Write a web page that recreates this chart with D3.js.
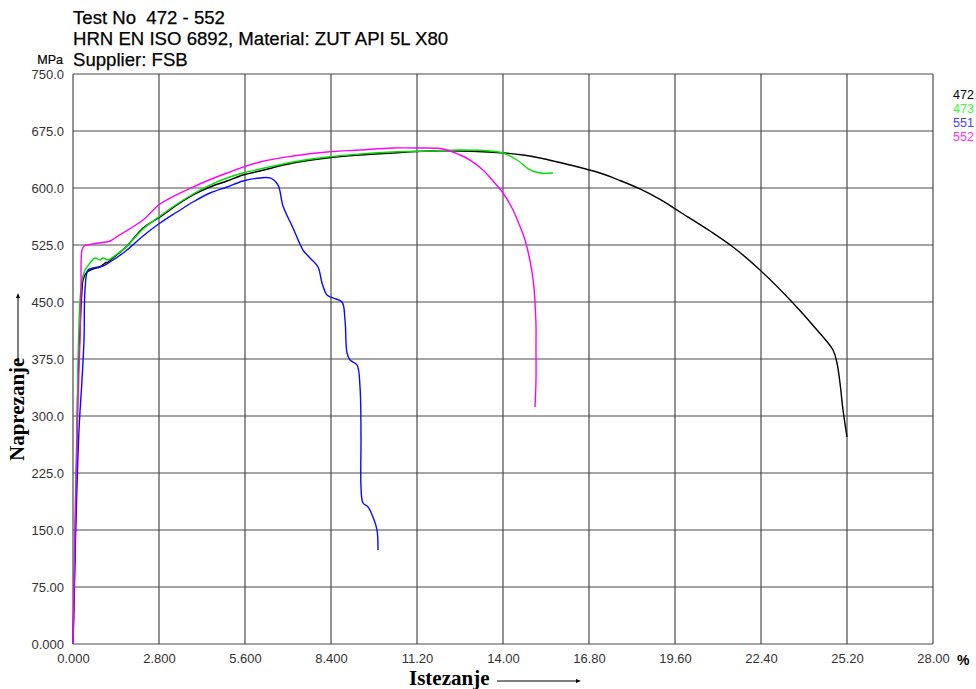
<!DOCTYPE html>
<html><head><meta charset="utf-8">
<script src="https://cdn.jsdelivr.net/npm/d3@7"></script>
<style>body{margin:0;background:#fff}svg{display:block}text{white-space:pre}</style>
</head><body>
<svg id="c" width="976" height="689"></svg>
<script>
const titleLines = ["Test No  472 - 552", "HRN EN ISO 6892, Material: ZUT API 5L X80", "Supplier: FSB"];
const xTicks = [0, 2.8, 5.6, 8.4, 11.2, 14.0, 16.8, 19.6, 22.4, 25.2, 28.0];
const xTickLabels = ["0.000","2.800","5.600","8.400","11.20","14.00","16.80","19.60","22.40","25.20","28.00"];
const yTicks = [0, 75, 150, 225, 300, 375, 450, 525, 600, 675, 750];
const yTickLabels = ["0.000","75.00","150.0","225.0","300.0","375.0","450.0","525.0","600.0","675.0","750.0"];
const seriesNames = ["472", "473", "551", "552"];
const seriesColors = ["#000000", "#00e000", "#0a0aff", "#ff00ff"];
const legendColors = ["#000000", "#33ff33", "#4444ff", "#ff33ff"];

const strain472 = [0,0.033,0.065,0.098,0.130,0.163,0.228,0.293,0.326,0.456,0.651,0.879,1.042,1.140,1.302,1.758,2.279,2.833,3.386,3.907,4.460,5.014,5.535,6.088,7.163,8.270,9.344,10.419,11.526,12.600,14.000,14.651,15.205,16.181,17.158,17.809,18.460,19.112,19.763,20.740,21.488,22.367,23.442,24.223,24.744,24.874,24.972,25.070,25.200];
const stress472 = [0,57.9,123.7,189.5,268.4,347.4,413.2,465.8,478.9,489.5,493.4,496.1,501.3,502.6,507.9,523.7,547.4,561.8,577.6,590.8,601.3,609.2,617.1,622.4,632.9,639.5,643.4,646.1,648.7,648.7,646.1,643.4,639.5,630.3,619.7,609.9,598.7,584.9,568.4,543.4,522.4,492.1,448.7,413.2,386.8,369.7,343.4,307.9,272.4];

const strain473 = [0,0.033,0.098,0.163,0.228,0.293,0.391,0.553,0.716,0.879,0.977,1.140,1.302,1.758,2.279,2.833,3.386,3.907,4.460,5.014,5.535,6.088,7.163,8.270,9.344,10.419,11.526,12.600,13.577,14.000,14.456,14.879,15.205,15.628];
const stress473 = [0,84.2,215.8,373.7,452.6,478.9,492.1,501.3,507.9,505.3,507.9,505.3,509.2,523.7,546.1,563.2,578.9,592.1,603.9,613.2,619.7,625.0,634.2,640.8,644.7,647.4,648.7,650.0,648.7,646.1,636.8,623.7,619.7,619.7];

const strain551 = [0,0.033,0.098,0.195,0.293,0.358,0.391,0.488,0.651,0.977,1.205,1.758,2.279,2.833,3.386,3.907,4.460,5.014,5.535,6.088,6.414,6.674,6.837,7.163,7.488,7.716,7.977,8.107,8.270,8.465,8.758,8.856,8.921,9.019,9.247,9.344,9.377,9.377,9.442,9.605,9.767,9.898,9.930];
const stress551 = [0,57.9,163.2,281.6,347.4,400.0,465.8,492.1,494.7,497.4,502.6,518.4,536.8,553.9,568.4,581.6,593.4,601.3,609.2,613.2,613.2,603.9,576.3,547.4,518.4,507.9,496.1,475.0,459.2,455.3,450.0,426.3,382.9,373.7,367.1,338.2,272.4,206.6,185.5,180.3,167.1,150.0,123.7];

const strain552 = [0,0.033,0.098,0.163,0.228,0.260,0.293,0.358,0.651,1.205,1.367,1.465,2.279,2.833,3.907,5.014,6.088,7.163,8.270,9.344,10.419,11.200,12.047,12.600,12.926,13.349,13.674,14.000,14.293,14.521,14.716,14.847,14.944,15.009,15.042,15.074,15.074,15.074,15.042];
const stress552 = [0,84.2,215.8,321.1,400.0,465.8,518.4,523.7,526.3,530.3,534.2,536.8,557.9,578.9,601.3,619.7,634.2,642.1,647.4,650.0,652.6,652.6,651.3,643.4,636.8,623.7,609.2,593.4,573.7,552.6,531.6,510.5,489.5,468.4,448.7,419.7,390.8,347.4,311.8];

const series = [
  {name: seriesNames[0], x: strain472, y: stress472},
  {name: seriesNames[1], x: strain473, y: stress473},
  {name: seriesNames[2], x: strain551, y: stress551},
  {name: seriesNames[3], x: strain552, y: stress552}
];

const svg = d3.select("#c");
const L = 73, R = 933, T = 74, B = 644;
const x = d3.scaleLinear().domain([0, 28]).range([L, R]);
const y = d3.scaleLinear().domain([0, 750]).range([B, T]);

// grid
const g = svg.append("g");
g.selectAll("line.v").data(xTicks).enter().append("line")
  .attr("x1", d => x(d)).attr("x2", d => x(d)).attr("y1", T).attr("y2", B)
  .attr("stroke", "#4a4a4a").attr("stroke-width", 1.2);
g.selectAll("line.h").data(yTicks).enter().append("line")
  .attr("x1", L).attr("x2", R).attr("y1", d => y(d)).attr("y2", d => y(d))
  .attr("stroke", "#4a4a4a").attr("stroke-width", 1.2);

const tf = "Liberation Sans, Arial, sans-serif";
const xAxis = d3.axisBottom(x).tickValues(xTicks).tickFormat((d, i) => xTickLabels[i]).tickSize(0).tickPadding(10);
const xa = svg.append("g").attr("transform", `translate(0,${B})`).call(xAxis);
xa.select(".domain").remove();
xa.selectAll("text").attr("font-family", tf).attr("font-size", 13).attr("fill", "#333");

const yAxis = d3.axisLeft(y).tickValues(yTicks).tickFormat((d, i) => yTickLabels[i]).tickSize(0).tickPadding(9);
const ya = svg.append("g").attr("transform", `translate(${L},0)`).call(yAxis);
ya.select(".domain").remove();
ya.selectAll("text").attr("font-family", tf).attr("font-size", 13).attr("fill", "#333");

// curves
const line = d3.line().x(d => x(d[0])).y(d => y(d[1])).curve(d3.curveCatmullRom.alpha(0.5));
series.forEach((s, i) => {
  const pts = s.x.map((v, k) => [v, s.y[k]]);
  svg.append("path").datum(pts).attr("d", line)
    .attr("fill", "none").attr("stroke", seriesColors[i]).attr("stroke-width", 1.4)
    .attr("stroke-linejoin", "round");
});

// titles
titleLines.forEach((t, i) => {
  svg.append("text").attr("x", 73).attr("y", 24 + i * 21).text(t)
    .attr("font-family", tf).attr("font-size", 18.6).attr("fill", "#000")
    .attr("stroke", "#000").attr("stroke-width", 0.25);
});
svg.append("text").attr("x", 63).attr("y", 64).attr("text-anchor", "end").text("MPa")
  .attr("font-family", tf).attr("font-size", 12.5).attr("fill", "#000")
  .attr("stroke", "#000").attr("stroke-width", 0.2);
svg.append("text").attr("x", 957).attr("y", 665).text("%")
  .attr("font-family", tf).attr("font-size", 14).attr("font-weight", "bold").attr("fill", "#000");

// legend
seriesNames.forEach((n, i) => {
  svg.append("text").attr("x", 953).attr("y", 99 + i * 14).text(n)
    .attr("font-family", tf).attr("font-size", 12.5).attr("fill", legendColors[i]);
});

// axis titles
const sf = "Liberation Serif, Times New Roman, serif";
svg.append("text").attr("x", 409).attr("y", 685).text("Istezanje")
  .attr("font-family", sf).attr("font-size", 21).attr("font-weight", "bold").attr("fill", "#000");
svg.append("line").attr("x1", 497).attr("x2", 578).attr("y1", 681).attr("y2", 681).attr("stroke", "#000").attr("stroke-width", 1);
svg.append("path").attr("d", "M581,681 L576,679 L576,683 Z").attr("fill", "#000");

svg.append("text").attr("transform", "translate(24,461) rotate(-90)").text("Naprezanje")
  .attr("font-family", sf).attr("font-size", 21).attr("font-weight", "bold").attr("fill", "#000");
svg.append("line").attr("x1", 18).attr("x2", 18).attr("y1", 364).attr("y2", 296).attr("stroke", "#000").attr("stroke-width", 1);
svg.append("path").attr("d", "M18,293 L16,298 L20,298 Z").attr("fill", "#000");
</script>
</body></html>
